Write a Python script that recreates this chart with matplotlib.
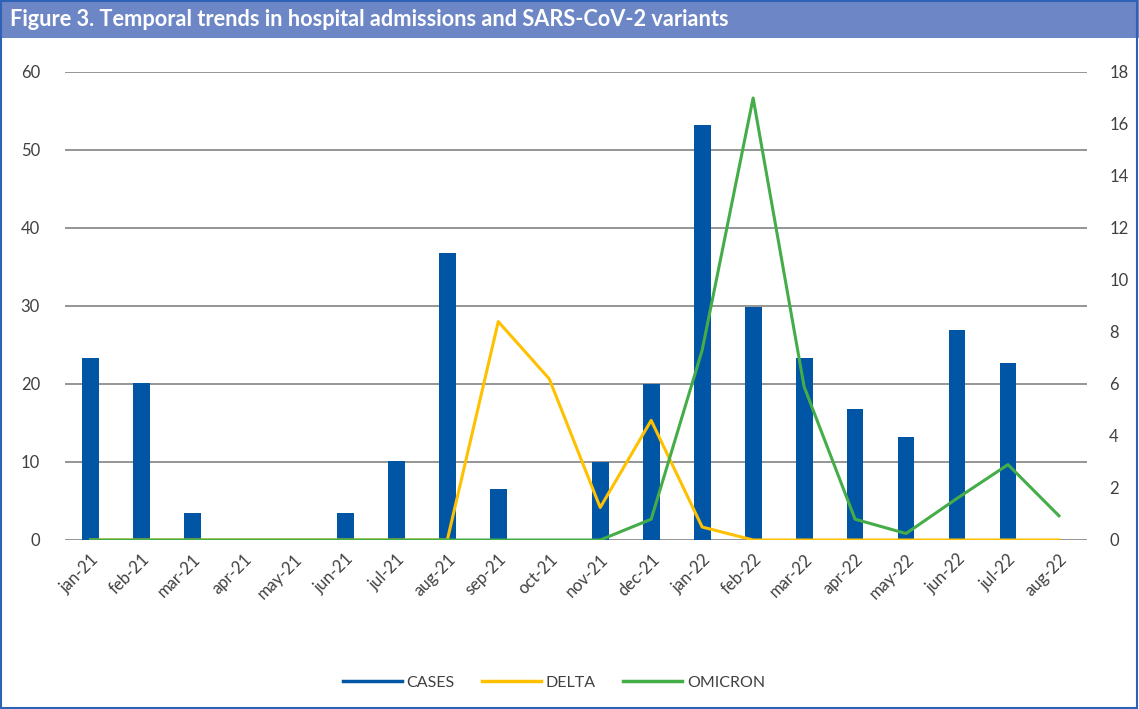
import matplotlib.pyplot as plt
from matplotlib.patches import Rectangle
from matplotlib.lines import Line2D
import numpy as np

# datos
meses = ["jan-21", "feb-21", "mar-21", "apr-21", "may-21", "jun-21", "jul-21",
         "aug-21", "sep-21", "oct-21", "nov-21", "dec-21", "jan-22", "feb-22",
         "mar-22", "apr-22", "may-22", "jun-22", "jul-22", "aug-22"]
cases = [23.3, 20.1, 3.4, 0, 0, 3.4, 10.1, 36.8, 6.6, 0, 10.0, 20.0,
         53.2, 29.9, 23.3, 16.8, 13.2, 26.9, 22.7, 0]
delta = [0, 0, 0, 0, 0, 0, 0, 0, 8.4, 6.2, 1.25, 4.6,
         0.5, 0, 0, 0, 0, 0, 0, 0]
omicron = [0, 0, 0, 0, 0, 0, 0, 0, 0, 0, 0, 0.8,
           7.3, 17.0, 5.9, 0.8, 0.25, 1.6, 2.9, 0.93]

azul = "#0055A5"
amarillo = "#FFC000"
verde = "#45AD48"
gris_txt = "#404040"

plt.rcParams['font.family'] = ['Lato', 'DejaVu Sans']

fig = plt.figure(figsize=(11.39, 7.09), dpi=100)

# barra del título
fig.patches.append(Rectangle((0, 1 - 38 / 709), 1, 38 / 709, transform=fig.transFigure,
                             facecolor="#6D86C5", edgecolor="none", zorder=0))
fig.patches.append(Rectangle((0.001, 0.001), 0.997, 0.997, transform=fig.transFigure,
                             facecolor="none", edgecolor="#2E62B5", linewidth=1.5, zorder=5))
fig.text(10 / 1139, 1 - 20 / 709, "Figure 3. Temporal trends in hospital admissions and SARS-CoV-2 variants",
         color="white", fontsize=15.7, fontweight="bold", va="center", ha="left")

ax = fig.add_axes([65 / 1139, 169 / 709, 1022 / 1139, 468 / 709])
x = np.arange(len(meses))

ax.bar(x, cases, width=0.33, color=azul, zorder=2)
ax.set_ylim(0, 60)
ax.set_yticks(range(0, 61, 10))
ax.set_xlim(-0.5, 19.55)
ax.grid(axis="y", color="#8C8C8C", linewidth=1.3, zorder=0)
ax.set_axisbelow(True)
for s in ax.spines.values():
    s.set_visible(False)
ax.tick_params(axis="both", length=0, colors=gris_txt, labelsize=12)
ax.tick_params(axis="y", pad=18)
ax.set_xticks(x)
ax.set_xticklabels(meses, rotation=45, ha="right", rotation_mode="anchor")
ax.tick_params(axis="x", pad=8)

ax2 = ax.twinx()
ax2.plot(x, delta, color=amarillo, linewidth=2.2, zorder=3)
ax2.plot(x, omicron, color=verde, linewidth=2.2, zorder=4)
ax2.set_ylim(0, 18)
ax2.set_yticks(range(0, 19, 2))
for s in ax2.spines.values():
    s.set_visible(False)
ax2.tick_params(axis="y", length=0, colors=gris_txt, labelsize=12, pad=16)

handles = [Line2D([], [], color=azul, linewidth=2.5),
           Line2D([], [], color=amarillo, linewidth=2.5),
           Line2D([], [], color=verde, linewidth=2.5)]
leg = fig.legend(handles, ["CASES", "DELTA", "OMICRON"], loc="center",
                 bbox_to_anchor=(554 / 1139, 1 - 683 / 709), ncol=3, frameon=False,
                 fontsize=11.5, handlelength=3.7, handletextpad=0.3, columnspacing=1.7)
for t in leg.get_texts():
    t.set_color(gris_txt)

fig.savefig("out.png", dpi=100)
